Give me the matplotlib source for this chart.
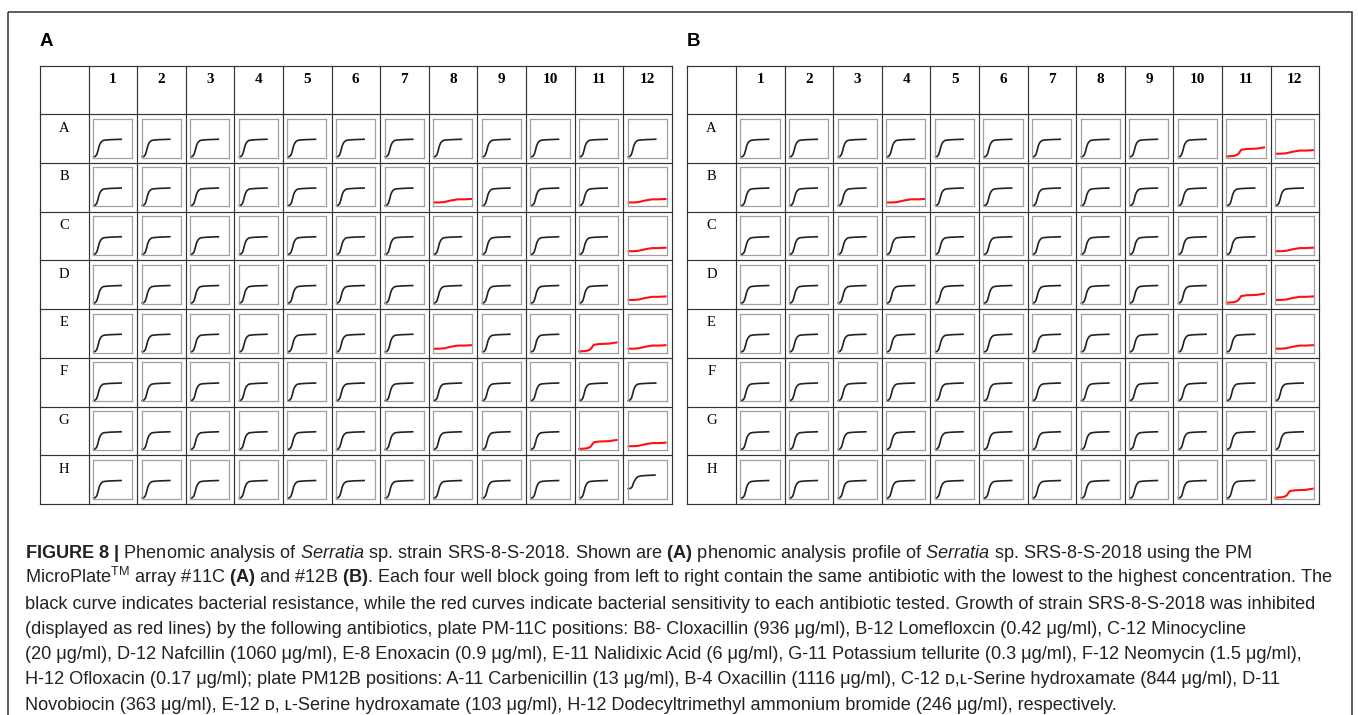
import matplotlib
matplotlib.use("Agg")
import matplotlib.pyplot as plt
from matplotlib.patches import Rectangle

W, H = 1358, 715
CAP_FONT = "Liberation Sans"

plt.rcParams["mathtext.fontset"] = "custom"
plt.rcParams["mathtext.rm"] = CAP_FONT
plt.rcParams["mathtext.it"] = CAP_FONT + ":italic"
plt.rcParams["mathtext.bf"] = CAP_FONT + ":bold"

col_labels = [str(i) for i in range(1, 13)]
row_labels = list("ABCDEFGH")

# growth curve templates (fraction of the well box)
resist_x = [0.02, 0.06, 0.10, 0.13, 0.16, 0.19, 0.22, 0.26, 0.32, 0.45, 0.72]
resist_y = [0.02, 0.03, 0.08, 0.18, 0.30, 0.37, 0.41, 0.44, 0.45, 0.46, 0.47]
early_x = [0.02, 0.08, 0.12, 0.15, 0.19, 0.23, 0.27, 0.35, 0.50, 0.70]
early_y = [0.26, 0.27, 0.31, 0.40, 0.48, 0.54, 0.57, 0.59, 0.60, 0.61]
flat_x = [0.03, 0.15, 0.28, 0.45, 0.63, 0.80, 0.97]
flat_y = [0.10, 0.10, 0.11, 0.15, 0.18, 0.18, 0.19]
step_x = [0.01, 0.17, 0.25, 0.30, 0.35, 0.38, 0.45, 0.51, 0.77, 0.96]
step_y = [0.03, 0.04, 0.06, 0.09, 0.16, 0.20, 0.21, 0.22, 0.23, 0.26]

# wells with inhibited growth (red) per plate
plate_a_flat = ["B8", "B12", "C12", "D12", "E8", "E12", "G12"]
plate_a_step = ["E11", "G11"]
plate_a_early = ["H12"]
plate_b_flat = ["A12", "B4", "C12", "D12", "E12"]
plate_b_step = ["A11", "D11", "H12"]
plate_b_early = []

caption_lines = [
    r"$\mathbf{FIGURE\ 8\ |}$ Phenomic analysis of $\mathit{Serratia}$ sp. strain SRS-8-S-2018. Shown are "
    r"$\mathbf{(A)}$ phenomic analysis profile of $\mathit{Serratia}$ sp. SRS-8-S-2018 using the PM",
    r"MicroPlate${}^{\mathrm{TM}}$ array #11C $\mathbf{(A)}$ and #12B $\mathbf{(B)}$. Each four well block going "
    r"from left to right contain the same antibiotic with the lowest to the highest concentration. The",
    "black curve indicates bacterial resistance, while the red curves indicate bacterial sensitivity to each "
    "antibiotic tested. Growth of strain SRS-8-S-2018 was inhibited",
    "(displayed as red lines) by the following antibiotics, plate PM-11C positions: B8- Cloxacillin "
    "(936 \u03bcg/ml), B-12 Lomefloxcin (0.42 \u03bcg/ml), C-12 Minocycline",
    "(20 \u03bcg/ml), D-12 Nafcillin (1060 \u03bcg/ml), E-8 Enoxacin (0.9 \u03bcg/ml), E-11 Nalidixic Acid "
    "(6 \u03bcg/ml), G-11 Potassium tellurite (0.3 \u03bcg/ml), F-12 Neomycin (1.5 \u03bcg/ml),",
    "H-12 Ofloxacin (0.17 \u03bcg/ml); plate PM12B positions: A-11 Carbenicillin (13 \u03bcg/ml), B-4 Oxacillin "
    "(1116 \u03bcg/ml), C-12 \u1d05,\u029f-Serine hydroxamate (844 \u03bcg/ml), D-11",
    "Novobiocin (363 \u03bcg/ml), E-12 \u1d05, \u029f-Serine hydroxamate (103 \u03bcg/ml), H-12 Dodecyltrimethyl "
    "ammonium bromide (246 \u03bcg/ml), respectively.",
]

# layout in pixels
TOP = 66
LABEL_W, COL_W = 49, 48.6
HEAD_H, ROW_H = 48, 48.75
BOX_DX, BOX_DY, BOX_W, BOX_H = 4.4, 4.6, 39.2, 39.0


def px_axes(fig, x0, y0, w, h):
    return fig.add_axes([x0 / W, 1 - (y0 + h) / H, w / W, h / H])


def draw_plate(fig, bg, left, label, flat, step, early):
    right = left + LABEL_W + 12 * COL_W
    bottom = TOP + HEAD_H + 8 * ROW_H
    bg.text(left, 42, label, fontsize=13.5, fontweight="bold", family="Liberation Sans",
            va="center", ha="left")
    xs = [left, left + LABEL_W] + [left + LABEL_W + (i + 1) * COL_W for i in range(12)]
    ys = [TOP, TOP + HEAD_H] + [TOP + HEAD_H + (j + 1) * ROW_H for j in range(8)]
    for x in xs:
        bg.plot([x, x], [TOP, bottom], color="#333333", lw=0.85)
    for y in ys:
        bg.plot([left, right], [y, y], color="#333333", lw=0.85)
    for i, c in enumerate(col_labels):
        bg.text(left + LABEL_W + (i + 0.5) * COL_W, TOP + 13.5, c, fontsize=11, fontweight="bold",
                family="Liberation Serif", ha="center", va="center")
    for j, r in enumerate(row_labels):
        y0 = TOP + HEAD_H + j * ROW_H
        bg.text(left + LABEL_W / 2, y0 + 14, r, fontsize=10.5, family="Liberation Serif",
                ha="center", va="center")
        for i, c in enumerate(col_labels):
            x0 = left + LABEL_W + i * COL_W
            ax = px_axes(fig, x0 + BOX_DX, y0 + BOX_DY, BOX_W, BOX_H)
            ax.set_xlim(0, 1)
            ax.set_ylim(0, 1)
            ax.set_xticks([])
            ax.set_yticks([])
            for s in ax.spines.values():
                s.set_color("#a0a0a0")
                s.set_linewidth(0.9)
            well = r + c
            if well in flat:
                ax.plot(flat_x, flat_y, color="#ff1010", lw=1.5, clip_on=False)
            elif well in step:
                ax.plot(step_x, step_y, color="#ff1010", lw=1.5, clip_on=False)
            elif well in early:
                ax.plot(early_x, early_y, color="#222222", lw=1.2, clip_on=False)
            else:
                ax.plot(resist_x, resist_y, color="#222222", lw=1.2, clip_on=False)


fig = plt.figure(figsize=(W / 100, H / 100), dpi=100)
bg = fig.add_axes([0, 0, 1, 1])
bg.set_xlim(0, W)
bg.set_ylim(H, 0)
bg.axis("off")
bg.add_patch(Rectangle((8, 12), 1344, 720, fill=False, ec="#333333", lw=1.1, clip_on=False))

draw_plate(fig, bg, 39.5, "A", plate_a_flat, plate_a_step, plate_a_early)
draw_plate(fig, bg, 687, "B", plate_b_flat, plate_b_step, plate_b_early)

for k, line in enumerate(caption_lines):
    bg.text(25, 558 + k * 25.3, line, fontsize=13.1, va="baseline", ha="left", color="#222222",
            family=[CAP_FONT, "DejaVu Sans"])

fig.savefig("out.png", dpi=100)
